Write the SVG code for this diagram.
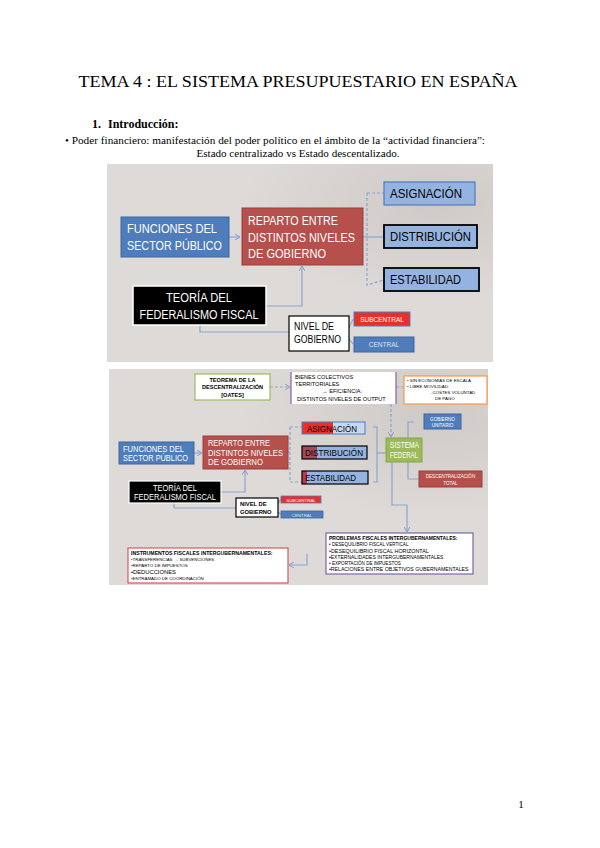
<svg xmlns="http://www.w3.org/2000/svg" width="600" height="848" viewBox="0 0 600 848">
<defs>
<radialGradient id="blob" cx="0.85" cy="0.2" r="0.5">
<stop offset="0" stop-color="#cfcac6"/>
<stop offset="1" stop-color="#dedad7"/>
</radialGradient>
<marker id="arr" markerWidth="6" markerHeight="6" refX="5" refY="3" orient="auto" markerUnits="userSpaceOnUse">
<path d="M0,0 L5,3 L0,6" fill="none" stroke="#7f9fcf" stroke-width="1"/>
</marker>
</defs>
<style>
.pg{font-family:"Liberation Serif","Times New Roman",serif;fill:#000}
.s{font-family:"Liberation Sans",Arial,sans-serif}
.w{fill:#fff}
.k{fill:#000}
.c{fill:none;stroke:#8aa6d2;stroke-width:1.2}
.cd{fill:none;stroke:#8aa6d2;stroke-width:1.2;stroke-dasharray:3 2}
</style>
<rect width="600" height="848" fill="#fff"/>
<text class="pg" x="298" y="87" font-size="16" text-anchor="middle" textLength="439" lengthAdjust="spacingAndGlyphs">TEMA 4 : EL SISTEMA PRESUPUESTARIO EN ESPAÑA</text>
<text class="pg" x="92" y="128" font-size="12" font-weight="bold">1.</text>
<text class="pg" x="108" y="128" font-size="12" font-weight="bold">Introducción:</text>
<text class="pg" x="65" y="144" font-size="10.5" textLength="420" lengthAdjust="spacingAndGlyphs">• Poder financiero: manifestación del poder político en el ámbito de la “actividad financiera”:</text>
<text class="pg" x="298" y="157" font-size="10.5" text-anchor="middle" textLength="203" lengthAdjust="spacingAndGlyphs">Estado centralizado vs Estado descentalizado.</text>
<text class="pg" x="521" y="808" font-size="11" text-anchor="middle">1</text>

<!-- Diagram 1 -->
<g id="diagram1">
<rect x="107" y="164" width="386" height="198" fill="url(#blob)"/>
<g id="d1-connectors">
<path class="c" d="M363,237 H384"/>
<path class="cd" d="M367,193 V285 L384,280"/>
<path class="cd" d="M367,193 H384"/>
<path class="c" d="M266,306 H302 V266" marker-end="url(#arr)"/>
<path class="c" d="M229,237 H240" marker-end="url(#arr)"/>
<path class="c" d="M200,325 V332 H289"/>
<path class="c" d="M349,328 Q352,320 354,319"/>
<path class="c" d="M349,338 Q352,344 354,344"/>
</g>
<g id="d1-funciones">
<rect x="121" y="217" width="108" height="40" fill="#4f7cba" stroke="#3d669f"/>
<text class="s w" x="127" y="232.5" font-size="12.5" textLength="90" lengthAdjust="spacingAndGlyphs">FUNCIONES DEL</text>
<text class="s w" x="127" y="249.5" font-size="12.5" textLength="95" lengthAdjust="spacingAndGlyphs">SECTOR PÚBLICO</text>
</g>
<g id="d1-reparto">
<rect x="242" y="208" width="121" height="57" fill="#b5504c" stroke="#9b3e3a"/>
<text class="s w" x="248" y="224.5" font-size="12.5" textLength="90" lengthAdjust="spacingAndGlyphs">REPARTO ENTRE</text>
<text class="s w" x="248" y="241.5" font-size="12.5" textLength="107" lengthAdjust="spacingAndGlyphs">DISTINTOS NIVELES</text>
<text class="s w" x="248" y="258" font-size="12.5" textLength="78" lengthAdjust="spacingAndGlyphs">DE GOBIERNO</text>
</g>
<g id="d1-asignacion">
<rect x="384" y="182" width="91" height="23" fill="#95b3e0" stroke="#4f7cba" stroke-width="1.2"/>
<text class="s k" x="390" y="198" font-size="12.5" textLength="72" lengthAdjust="spacingAndGlyphs">ASIGNACIÓN</text>
</g>
<g id="d1-distribucion">
<rect x="384" y="225" width="93" height="23" fill="#95b3e0" stroke="#000" stroke-width="1.8"/>
<text class="s k" x="390" y="241" font-size="12.5" textLength="81" lengthAdjust="spacingAndGlyphs">DISTRIBUCIÓN</text>
</g>
<g id="d1-estabilidad">
<rect x="384" y="268" width="95" height="23" fill="#95b3e0" stroke="#000" stroke-width="1.8"/>
<text class="s k" x="390" y="284" font-size="12.5" textLength="71" lengthAdjust="spacingAndGlyphs">ESTABILIDAD</text>
</g>
<g id="d1-teoria">
<rect x="133" y="286" width="133" height="39" fill="#000" stroke="#fff" stroke-width="1.5"/>
<text class="s w" x="199" y="302" font-size="12.5" text-anchor="middle" textLength="66" lengthAdjust="spacingAndGlyphs">TEORÍA DEL</text>
<text class="s w" x="199" y="319" font-size="12.5" text-anchor="middle" textLength="119" lengthAdjust="spacingAndGlyphs">FEDERALISMO FISCAL</text>
</g>
<g id="d1-nivel">
<rect x="289" y="316" width="60" height="35" fill="#fff" stroke="#000" stroke-width="1.2"/>
<text class="s k" x="294" y="330" font-size="10" textLength="40" lengthAdjust="spacingAndGlyphs">NIVEL DE</text>
<text class="s k" x="294" y="343" font-size="10" textLength="47" lengthAdjust="spacingAndGlyphs">GOBIERNO</text>
</g>
<g id="d1-subcentral">
<rect x="354" y="312" width="56" height="14" fill="#e8302a" stroke="#4f7cba"/>
<text class="s w" x="382" y="322" font-size="6.5" text-anchor="middle">SUBCENTRAL</text>
</g>
<g id="d1-central">
<rect x="354" y="337" width="60" height="15" fill="#4f7cba" stroke="#3d669f"/>
<text class="s" fill="#dde6f3" x="384" y="347" font-size="6.5" text-anchor="middle">CENTRAL</text>
</g>
</g>

<!-- Diagram 2 -->
<g id="diagram2">
<rect x="109" y="369" width="379" height="216" fill="url(#blob)"/>
<g id="d2-connectors">
<path class="cd" d="M270,387 H290" marker-end="url(#arr)"/>
<path class="cd" d="M396,387 H404"/>
<path class="cd" d="M391,404 V437" marker-end="url(#arr)"/>
<path class="c" d="M194,453 H202" marker-end="url(#arr)"/>
<path class="c" d="M288,452 H290"/>
<path class="cd" d="M290,427 V482 H302"/>
<path class="cd" d="M290,427 H302"/>
<path class="c" d="M373,427 H377 V482 H373"/>
<path class="c" d="M377,453 H386"/>
<path class="c" d="M221,492 H245 V470" marker-end="url(#arr)"/>
<path class="c" d="M174,503 V508 H236"/>
<path class="c" d="M278,504 Q280,500 281,499"/>
<path class="c" d="M278,512 Q280,514 281,514"/>
<path class="c" d="M414,422 H408 V479 H419"/>
<path class="c" d="M392,462 V505 H407 V532" marker-end="url(#arr)"/>
<path class="c" d="M307,554 V565 H289" marker-end="url(#arr)"/>
</g>
<g id="d2-teorema">
<rect x="195" y="374" width="75" height="26" fill="#fff" stroke="#9bbb59" stroke-width="1.2"/>
<text class="s k" x="232.5" y="382" font-size="5.6" font-weight="bold" text-anchor="middle">TEOREMA DE LA</text>
<text class="s k" x="232.5" y="389" font-size="5.6" font-weight="bold" text-anchor="middle">DESCENTRALIZACIÓN</text>
<text class="s k" x="232.5" y="397" font-size="5.6" font-weight="bold" text-anchor="middle">[OATES]</text>
</g>
<g id="d2-bienes">
<rect x="291" y="372" width="105" height="32" fill="#fff"/>
<path d="M291,372 V404 M396,372 V404" stroke="#8064a2" stroke-width="1.2"/>
<text class="s k" x="295" y="379" font-size="5.6">BIENES COLECTIVOS</text>
<text class="s k" x="295" y="386" font-size="5.6">TERRITORIALES</text>
<text class="s k" x="322" y="393" font-size="5.6">→ EFICIENCIA:</text>
<text class="s k" x="297" y="401" font-size="5.6">DISTINTOS NIVELES DE OUTPUT</text>
</g>
<g id="d2-escala">
<rect x="404" y="376" width="83" height="28" fill="#fff" stroke="#f79646" stroke-width="1.2"/>
<text class="s k" x="407" y="382" font-size="4.4">• SIN ECONOMÍAS DE ESCALA</text>
<text class="s k" x="407" y="388" font-size="4.4">• LIBRE MOVILIDAD:</text>
<text class="s k" x="428" y="394" font-size="4.4">→COSTES VOLUNTAD</text>
<text class="s k" x="435" y="400" font-size="4.4">DE PAGO</text>
</g>
<g id="d2-unitario">
<rect x="424" y="414" width="37" height="15" fill="#4f7cba" stroke="#3d669f"/>
<text class="s w" x="442.5" y="420.5" font-size="4.6" text-anchor="middle">GOBIERNO</text>
<text class="s w" x="442.5" y="426.5" font-size="4.6" text-anchor="middle">UNITARIO</text>
</g>
<g id="d2-funciones">
<rect x="119" y="442" width="75" height="22" fill="#4f7cba" stroke="#3d669f"/>
<text class="s w" x="123" y="451.5" font-size="8.5" textLength="61" lengthAdjust="spacingAndGlyphs">FUNCIONES DEL</text>
<text class="s w" x="123" y="461" font-size="8.5" textLength="65" lengthAdjust="spacingAndGlyphs">SECTOR PÚBLICO</text>
</g>
<g id="d2-reparto">
<rect x="203" y="436" width="85" height="33" fill="#b5504c" stroke="#9b3e3a"/>
<text class="s w" x="208" y="446" font-size="8.5" textLength="62" lengthAdjust="spacingAndGlyphs">REPARTO ENTRE</text>
<text class="s w" x="208" y="455.5" font-size="8.5" textLength="75" lengthAdjust="spacingAndGlyphs">DISTINTOS NIVELES</text>
<text class="s w" x="208" y="465" font-size="8.5" textLength="55" lengthAdjust="spacingAndGlyphs">DE GOBIERNO</text>
</g>
<g id="d2-asignacion">
<rect x="302" y="422" width="63" height="12" fill="#c6d9f1"/>
<rect x="302" y="422" width="31" height="12" fill="#e8302a"/>
<rect x="302" y="422" width="63" height="12" fill="none" stroke="#4f7cba"/>
<text class="s k" x="307" y="431.5" font-size="8.5" textLength="50" lengthAdjust="spacingAndGlyphs">ASIGNACIÓN</text>
</g>
<g id="d2-distribucion">
<rect x="302" y="446" width="65" height="13" fill="#95b3e0"/>
<rect x="302" y="446" width="15" height="13" fill="#a04a5a"/>
<rect x="302" y="446" width="65" height="13" fill="none" stroke="#000" stroke-width="1.2"/>
<text class="s k" x="305" y="456" font-size="8.5" textLength="58" lengthAdjust="spacingAndGlyphs">DISTRIBUCIÓN</text>
</g>
<g id="d2-estabilidad">
<rect x="302" y="471" width="66" height="13" fill="#95b3e0"/>
<rect x="302" y="471" width="5" height="13" fill="#c0394a"/>
<rect x="302" y="471" width="66" height="13" fill="none" stroke="#000" stroke-width="1.2"/>
<text class="s k" x="305" y="481" font-size="8.5" textLength="51" lengthAdjust="spacingAndGlyphs">ESTABILIDAD</text>
</g>
<g id="d2-sistema">
<rect x="386" y="438" width="36" height="24" fill="#9bbb59" stroke="#85a346"/>
<text class="s w" x="390" y="448" font-size="8.2" textLength="29" lengthAdjust="spacingAndGlyphs">SISTEMA</text>
<text class="s w" x="390" y="458" font-size="8.2" textLength="28" lengthAdjust="spacingAndGlyphs">FEDERAL</text>
</g>
<g id="d2-descentralizacion">
<rect x="419" y="471" width="63" height="16" fill="#b5504c" stroke="#9b3e3a"/>
<text class="s w" x="450.5" y="478" font-size="4.6" text-anchor="middle">DESCENTRALIZACIÓN</text>
<text class="s w" x="450.5" y="484.5" font-size="4.6" text-anchor="middle">TOTAL</text>
</g>
<g id="d2-teoria">
<rect x="129" y="481" width="92" height="22" fill="#000" stroke="#fff" stroke-width="1.2"/>
<text class="s w" x="175" y="490.5" font-size="8.5" text-anchor="middle" textLength="44" lengthAdjust="spacingAndGlyphs">TEORÍA DEL</text>
<text class="s w" x="175" y="500" font-size="8.5" text-anchor="middle" textLength="82" lengthAdjust="spacingAndGlyphs">FEDERALISMO FISCAL</text>
</g>
<g id="d2-nivel">
<rect x="236" y="498" width="42" height="19" fill="#fff" stroke="#000" stroke-width="1.2"/>
<text class="s k" x="240" y="506" font-size="5.8" font-weight="bold">NIVEL DE</text>
<text class="s k" x="240" y="514" font-size="5.8" font-weight="bold">GOBIERNO</text>
</g>
<g id="d2-subcentral">
<rect x="281" y="496" width="40" height="7" fill="#e8302a" stroke="#4f7cba" stroke-width="0.8"/>
<text class="s w" x="301" y="501.5" font-size="4.4" text-anchor="middle">SUBCENTRAL</text>
</g>
<g id="d2-central">
<rect x="281" y="511" width="42" height="7" fill="#4f7cba" stroke="#3d669f" stroke-width="0.8"/>
<text class="s" fill="#dde6f3" x="302" y="516.5" font-size="4.4" text-anchor="middle">CENTRAL</text>
</g>
<g id="d2-problemas">
<rect x="326" y="533" width="147" height="41" fill="#fff" stroke="#8064a2" stroke-width="1.2"/>
<text class="s k" x="329" y="540" font-size="5" font-weight="bold">PROBLEMAS FISCALES INTERGUBERNAMENTALES:</text>
<text class="s k" x="329" y="546" font-size="4.6">• DESEQUILIBRIO FISCAL VERTICAL</text>
<text class="s k" x="329" y="552.5" font-size="5.4">•DESEQUILIBRIO FISCAL HORIZONTAL</text>
<text class="s k" x="329" y="558.5" font-size="5">•EXTERNALIDADES INTERGUBERNAMENTALES</text>
<text class="s k" x="329" y="564.5" font-size="4.6">• EXPORTACIÓN DE IMPUESTOS</text>
<text class="s k" x="329" y="571" font-size="5.2">•RELACIONES ENTRE OBJETIVOS GUBERNAMENTALES</text>
</g>
<g id="d2-instrumentos">
<rect x="128" y="548" width="160" height="35" fill="#fff" stroke="#d9595a" stroke-width="1.2"/>
<text class="s k" x="131" y="555" font-size="5.2" font-weight="bold">INSTRUMENTOS FISCALES INTERGUBERNAMENTALES:</text>
<text class="s k" x="131" y="561" font-size="4.4">•TRANSFERENCIAS → SUBVENCIONES</text>
<text class="s k" x="131" y="567" font-size="4.4">•REPARTO DE IMPUESTOS</text>
<text class="s k" x="131" y="574" font-size="5.8">•DEDUCCIONES</text>
<text class="s k" x="131" y="580" font-size="4.4">•ENTRAMADO DE COORDINACIÓN</text>
</g>
</g>
</svg>
